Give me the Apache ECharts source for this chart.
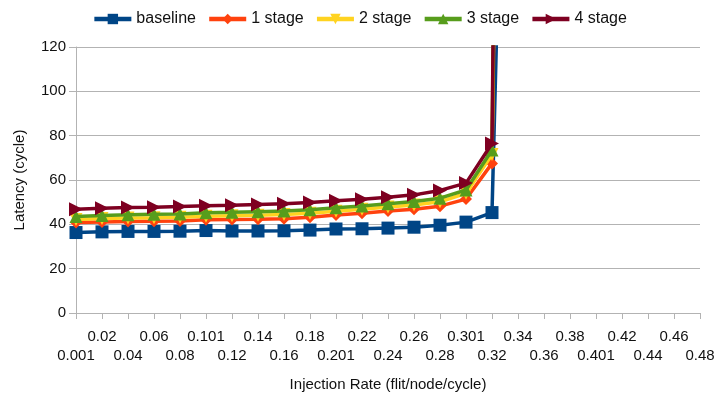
<!DOCTYPE html>
<html>
<head>
<meta charset="utf-8">
<script src="https://cdn.jsdelivr.net/npm/echarts@6/dist/echarts.min.js"></script>
<style>
html,body{margin:0;padding:0;background:#fff;}
#chart{width:719px;height:398px;}
</style>
</head>
<body>
<div id="chart"></div>
<script>
const categories = ['0.001','0.02','0.04','0.06','0.08','0.101','0.12','0.14','0.16','0.18','0.201','0.22','0.24','0.26','0.28','0.301','0.32','0.34','0.36','0.38','0.401','0.42','0.44','0.46','0.48'];
const yTicks = [0, 20, 40, 60, 80, 100, 120];
const seriesNames = ['baseline', '1 stage', '2 stage', '3 stage', '4 stage'];
const baseline = [36.3, 36.6, 36.8, 36.8, 36.9, 37.2, 37.0, 37.0, 37.1, 37.4, 37.9, 38.0, 38.3, 38.7, 39.6, 41.0, 45.3, 500];
const stage1   = [40.8, 41.1, 41.3, 41.4, 41.5, 42.1, 42.2, 42.3, 42.5, 43.2, 44.2, 45.0, 46.0, 46.8, 48.2, 51.4, 67.5, 900];
const stage2   = [42.2, 42.6, 42.9, 43.0, 43.2, 43.7, 43.9, 44.1, 44.4, 45.0, 45.9, 46.8, 47.8, 48.7, 50.2, 54.0, 71.5, 1000];
const stage3   = [43.5, 44.0, 44.3, 44.5, 44.7, 45.2, 45.4, 45.7, 46.0, 46.6, 47.5, 48.3, 49.3, 50.3, 51.8, 55.5, 73.5, 1100];
const stage4   = [46.8, 47.3, 47.6, 47.7, 48.0, 48.4, 48.6, 48.9, 49.3, 49.8, 50.6, 51.3, 52.2, 53.3, 55.3, 58.6, 76.5, 1200];

const colors = ['#004586', '#ff420e', '#ffd320', '#579d1c', '#7e0021'];
const symbols = ['rect', 'diamond', 'triangle', 'triangle', 'triangle'];
const rotations = [0, 0, 180, 0, -90];
const sizes = [13, 12, 13, 13, 14];
const dataSets = [baseline, stage1, stage2, stage3, stage4];

const font = 'Liberation Sans, Arial, sans-serif';
const chart = echarts.init(document.getElementById('chart'));
chart.setOption({
  animation: false,
  color: colors,
  textStyle: { fontFamily: font },
  legend: {
    top: 6,
    left: 'center',
    itemWidth: 37,
    itemHeight: 13,
    itemGap: 11,
    lineStyle: { width: 4.5 },
    textStyle: { fontSize: 16, color: '#111', fontFamily: font },
    data: seriesNames
  },
  grid: { left: 76, right: 19, top: 47, bottom: 85, containLabel: false },
  xAxis: {
    type: 'category',
    data: categories,
    boundaryGap: false,
    name: 'Injection Rate (flit/node/cycle)',
    nameLocation: 'middle',
    nameGap: 64,
    nameTextStyle: { fontSize: 15, color: '#111', fontFamily: font },
    axisLine: { lineStyle: { color: '#b3b3b3', width: 1 } },
    axisTick: { show: true, length: 6, interval: 0, lineStyle: { color: '#b3b3b3' } },
    axisLabel: {
      interval: 0,
      hideOverlap: false,
      margin: 14,
      fontSize: 15,
      lineHeight: 19,
      color: '#111',
      fontFamily: font,
      formatter: function (v, i) { return i % 2 === 0 ? '\n' + v : v; }
    },
    splitLine: { show: false }
  },
  yAxis: {
    type: 'value',
    min: yTicks[0],
    max: yTicks[yTicks.length - 1],
    interval: yTicks[1] - yTicks[0],
    name: 'Latency (cycle)',
    nameLocation: 'middle',
    nameGap: 49,
    nameRotate: 90,
    nameTextStyle: { fontSize: 15, color: '#111', fontFamily: font },
    axisLine: { show: true, lineStyle: { color: '#b3b3b3', width: 1 } },
    axisTick: { show: true, length: 7, lineStyle: { color: '#b3b3b3' } },
    axisLabel: { fontSize: 15, color: '#111', margin: 10, fontFamily: font },
    splitLine: { show: true, lineStyle: { color: '#b3b3b3', width: 1 } }
  },
  series: seriesNames.map(function (name, k) {
    return {
      name: name,
      type: 'line',
      data: dataSets[k],
      symbol: symbols[k],
      symbolSize: sizes[k],
      symbolRotate: rotations[k],
      showAllSymbol: true,
      clip: true,
      lineStyle: { width: 3.5, color: colors[k] },
      itemStyle: { color: colors[k] },
      z: 2 + k
    };
  })
});
</script>
</body>
</html>
